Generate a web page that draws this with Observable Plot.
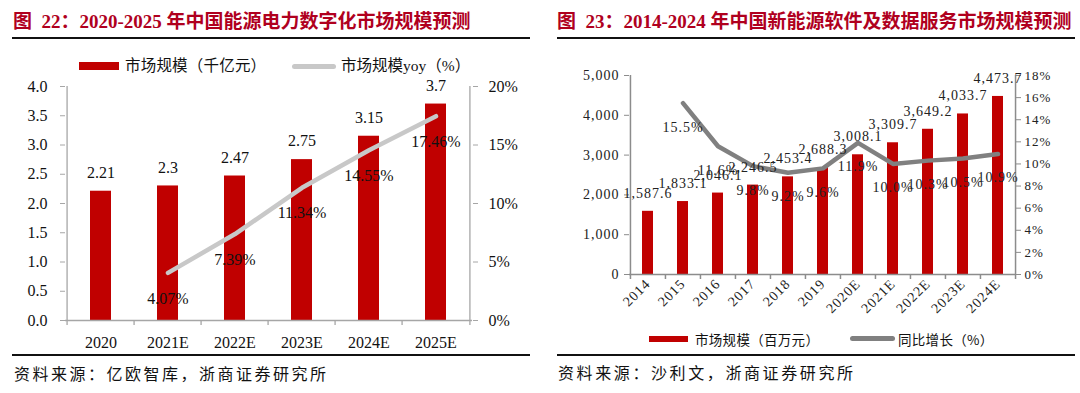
<!DOCTYPE html>
<html><head><meta charset="utf-8">
<script src="https://cdn.jsdelivr.net/npm/d3@7"></script>
<script src="https://cdn.jsdelivr.net/npm/@observablehq/plot@0.6"></script>
<style>
html,body{margin:0;padding:0;background:#fff;}
body{width:1080px;height:393px;position:relative;overflow:hidden;font-family:'Liberation Serif','Noto Sans CJK SC',serif;color:#111;}
.title{position:absolute;top:10px;font-weight:bold;font-size:19px;line-height:24px;color:#b0001e;white-space:nowrap;font-family:'Liberation Serif','Noto Sans CJK SC',serif;}
.hr{position:absolute;height:2px;background:#111;}
.cap{position:absolute;font-size:16px;line-height:20px;letter-spacing:2.5px;font-family:'Noto Sans CJK SC',sans-serif;white-space:nowrap;color:#111;}
.lg{position:absolute;white-space:nowrap;font-family:'Liberation Serif','Noto Sans CJK SC',serif;color:#111;}
.sw{position:absolute;}
.chart{position:absolute;}
</style></head>
<body>
<!-- Left panel -->
<div class="title" style="left:13px">图&nbsp;&nbsp;22：2020-2025 年中国能源电力数字化市场规模预测</div>
<div class="hr" style="left:12px;width:518px;top:37px"></div>
<div class="sw" style="left:79px;top:62px;width:40px;height:8px;background:#c00000"></div>
<div class="lg" style="left:125px;top:56px;font-size:15.5px;line-height:20px;letter-spacing:0.2px">市场规模（千亿元）</div>
<div class="sw" style="left:292px;top:63.5px;width:44px;height:5px;border-radius:3px;background:#c8c8c8"></div>
<div class="lg" style="left:341px;top:56px;font-size:15.5px;line-height:20px">市场规模yoy（%）</div>
<div id="c1" class="chart" style="left:0;top:70px"></div>
<div class="hr" style="left:12px;width:518px;top:354px"></div>
<div class="cap" style="left:14px;top:363px">资料来源：亿欧智库，浙商证券研究所</div>

<!-- Right panel -->
<div class="title" style="left:557px">图&nbsp;&nbsp;23：2014-2024 年中国新能源软件及数据服务市场规模预测</div>
<div class="hr" style="left:557px;width:518px;top:37px"></div>
<div id="c2" class="chart" style="left:540px;top:60px"></div>
<div class="sw" style="left:649px;top:335.5px;width:39px;height:6px;background:#c00000"></div>
<div class="lg" style="left:695px;top:329px;font-size:13.5px;line-height:20px;letter-spacing:0.3px;font-family:'Noto Sans CJK SC',sans-serif">市场规模（百万元）</div>
<div class="sw" style="left:850px;top:336px;width:45px;height:5px;border-radius:3px;background:#808080"></div>
<div class="lg" style="left:898px;top:329px;font-size:13.5px;line-height:20px;letter-spacing:0.3px;font-family:'Noto Sans CJK SC',sans-serif">同比增长（%）</div>
<div class="hr" style="left:557px;width:518px;top:354px"></div>
<div class="cap" style="left:558px;top:362px;letter-spacing:2.6px">资料来源：沙利文，浙商证券研究所</div>

<script>
// ---------- Chart 1 data ----------
const cat1 = ["2020", "2021E", "2022E", "2023E", "2024E", "2025E"];
const size1 = [2.21, 2.3, 2.47, 2.75, 3.15, 3.7];
const yoyCat1 = ["2021E", "2022E", "2023E", "2024E", "2025E"];
const yoy1 = [4.07, 7.39, 11.34, 14.55, 17.46];
const yTicks1 = [0, 0.5, 1, 1.5, 2, 2.5, 3, 3.5, 4];
const yoyTicks1 = [0, 5, 10, 15, 20];

// ---------- Chart 2 data ----------
const cat2 = ["2014", "2015", "2016", "2017", "2018", "2019", "2020E", "2021E", "2022E", "2023E", "2024E"];
const size2 = [1587.6, 1833.1, 2046.1, 2246.5, 2453.4, 2688.3, 3008.1, 3309.7, 3649.2, 4033.7, 4473.7];
const yoyCat2 = ["2015", "2016", "2017", "2018", "2019", "2020E", "2021E", "2022E", "2023E", "2024E"];
const yoy2 = [15.5, 11.6, 9.8, 9.2, 9.6, 11.9, 10.0, 10.3, 10.5, 10.9];
const yTicks2 = [0, 1000, 2000, 3000, 4000, 5000];
const yoyTicks2 = [0, 2, 4, 6, 8, 10, 12, 14, 16, 18];

function chart1() {
  const W = 540, H = 280, ml = 65, mr = 68, mt = 16, mb = 30;
  const n = cat1.length, step = (W - ml - mr) / n;
  const yMax = yTicks1[yTicks1.length - 1], pMax = yoyTicks1[yoyTicks1.length - 1];
  const k = yMax / pMax;
  const g = "#a6a6a6";
  const bars = cat1.map((c, i) => ({cat: c, v: size1[i]}));
  const yoy = yoyCat1.map((c, i) => ({cat: c, p: yoy1[i]}));
  return Plot.plot({
    width: W, height: H, marginLeft: ml, marginRight: mr, marginTop: mt, marginBottom: mb,
    style: {fontFamily: "'Liberation Serif','Times New Roman',serif", fontSize: "16px", background: "transparent", overflow: "visible", color: "#111"},
    x: {domain: cat1, paddingInner: 0.68, paddingOuter: 0.34, axis: null},
    y: {domain: [0, yMax], axis: null},
    marks: [
      Plot.barY(bars, {x: "cat", y: "v", fill: "#c00000"}),
      Plot.ruleY([0], {stroke: g, strokeWidth: 1.3}),
      Plot.ruleX(cat1.slice(1), {x: d => d, y1: 0, y2: 0, dx: -step / 2, insetBottom: -5, stroke: g, strokeWidth: 1.3}),
      Plot.ruleX([cat1[0]], {x: d => d, y1: yMax, y2: 0, dx: -step / 2, insetBottom: -5, stroke: g, strokeWidth: 1.3}),
      Plot.ruleX([cat1[n - 1]], {x: d => d, y1: yMax, y2: 0, dx: step / 2, insetBottom: -5, stroke: g, strokeWidth: 1.3}),
      Plot.axisY(yTicks1, {anchor: "left", tickSize: 5, tickPadding: 13, tickFormat: d => d.toFixed(1), stroke: g, fill: "#111", fontSize: 16, label: null}),
      Plot.axisY(yoyTicks1.map(t => t * k), {anchor: "right", tickSize: 5, tickPadding: 11, tickFormat: d => Math.round(d / k) + "%", stroke: g, fill: "#111", fontSize: 16, label: null}),
      Plot.axisX(cat1, {anchor: "bottom", tickSize: 0, tickPadding: 16, fill: "#111", fontSize: 16, label: null}),
      Plot.line(yoy, {x: "cat", y: d => d.p * k, stroke: "#c8c8c8", strokeWidth: 4.5, strokeLinecap: "round", strokeLinejoin: "round"}),
      Plot.text(bars, {x: "cat", y: "v", text: d => String(d.v), dy: -18.5, fill: "#111", fontSize: 16}),
      Plot.text(yoy, {x: "cat", y: d => d.p * k, text: d => d.p.toFixed(2) + "%", dy: 25.5, fill: "#111", fontSize: 16})
    ]
  });
}

function chart2() {
  const W = 540, H = 262, ml = 89, mr = 65, mt = 15, mb = 48;
  const n = cat2.length, step = (W - ml - mr) / n;
  const yMax = yTicks2[yTicks2.length - 1], pMax = yoyTicks2[yoyTicks2.length - 1];
  const k = yMax / pMax;
  const g = "#8c8c8c";
  const fmt = d3.format(",");
  const fmt1 = d3.format(",.1f");
  const bars = cat2.map((c, i) => ({cat: c, v: size2[i]}));
  const yoy = yoyCat2.map((c, i) => ({cat: c, p: yoy2[i]}));
  return Plot.plot({
    width: W, height: H, marginLeft: ml, marginRight: mr, marginTop: mt, marginBottom: mb,
    style: {fontFamily: "'Liberation Serif','Times New Roman',serif", fontSize: "14px", letterSpacing: "1px", background: "transparent", overflow: "visible", color: "#222"},
    x: {domain: cat2, paddingInner: 0.69, paddingOuter: 0.345, axis: null},
    y: {domain: [0, yMax], axis: null},
    marks: [
      Plot.barY(bars, {x: "cat", y: "v", fill: "#c00000"}),
      Plot.ruleY([0], {stroke: g, strokeWidth: 1.5}),
      Plot.ruleX(cat2.slice(1), {x: d => d, y1: 0, y2: 0, dx: -step / 2, insetBottom: -5, stroke: g, strokeWidth: 1.5}),
      Plot.ruleX([cat2[0]], {x: d => d, y1: yMax, y2: 0, dx: -step / 2, insetBottom: -5, stroke: g, strokeWidth: 1.5}),
      Plot.ruleX([cat2[n - 1]], {x: d => d, y1: yMax, y2: 0, dx: step / 2, insetBottom: -5, stroke: g, strokeWidth: 1.5}),
      Plot.axisY(yTicks2, {anchor: "left", tickSize: 5, tickPadding: 5, tickFormat: d => fmt(d), stroke: g, fill: "#222", fontSize: 14, label: null}),
      Plot.axisY(yoyTicks2.map(t => t * k), {anchor: "right", tickSize: 5, tickPadding: 4, tickFormat: d => Math.round(d / k) + "%", stroke: g, fill: "#222", fontSize: 13, label: null}),
      Plot.axisX(cat2, {anchor: "bottom", tickSize: 0, tickPadding: 7, tickRotate: -45, fill: "#222", fontSize: 14, label: null}),
      Plot.line(yoy, {x: "cat", y: d => d.p * k, stroke: "#808080", strokeWidth: 4.5, strokeLinecap: "round", strokeLinejoin: "round"}),
      Plot.text(bars, {x: "cat", y: "v", text: d => fmt1(d.v), dy: -18, fill: "#222", fontSize: 14}),
      Plot.text(yoy, {x: "cat", y: d => d.p * k, text: d => d.p.toFixed(1) + "%", dy: 24, fill: "#222", fontSize: 14})
    ]
  });
}

document.getElementById("c1").appendChild(chart1());
document.getElementById("c2").appendChild(chart2());
</script>
</body></html>
